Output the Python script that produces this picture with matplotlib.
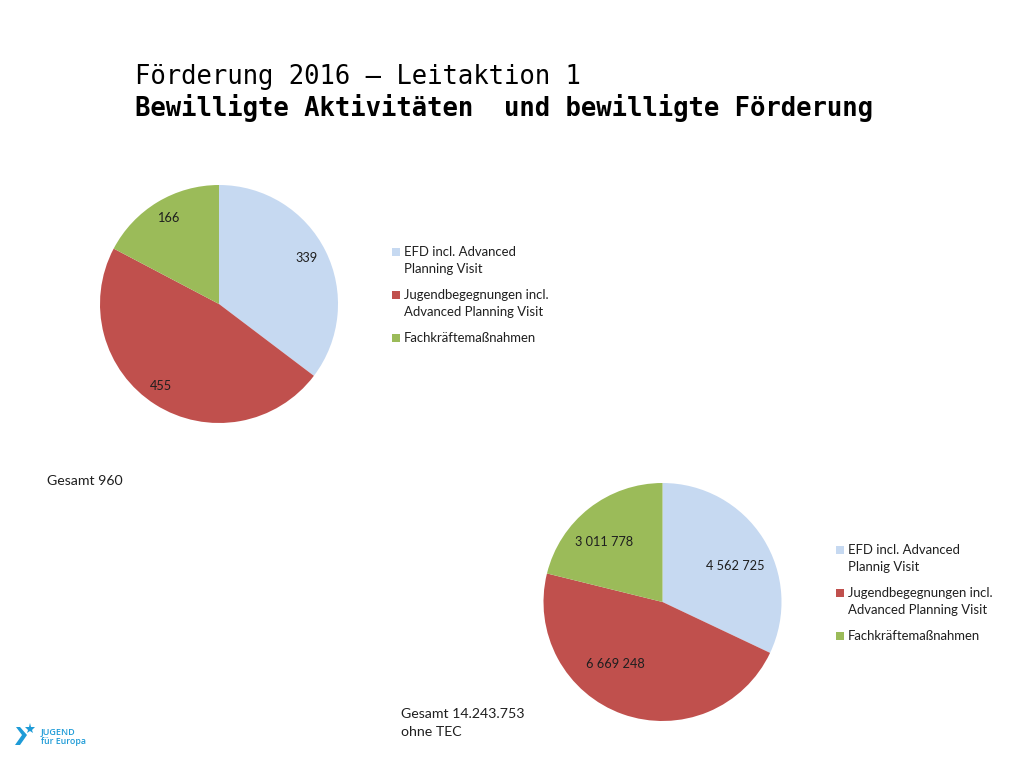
import matplotlib
matplotlib.use('Agg')
import matplotlib.pyplot as plt
from matplotlib.patches import Polygon, Rectangle

W, H = 1024, 768

title_top = "Förderung 2016 – Leitaktion 1"
title_bold = "Bewilligte Aktivitäten  und bewilligte Förderung"

colors = ['#C6D9F1', '#C0504D', '#9BBB59']

activities = [339, 455, 166]
activity_labels = ['339', '455', '166']
activity_legend = ['EFD incl. Advanced\nPlanning Visit',
                   'Jugendbegegnungen incl.\nAdvanced Planning Visit',
                   'Fachkräftemaßnahmen']

funding = [4562725, 6669248, 3011778]
funding_labels = ['4 562 725', '6 669 248', '3 011 778']
funding_legend = ['EFD incl. Advanced\nPlannig Visit',
                  'Jugendbegegnungen incl.\nAdvanced Planning Visit',
                  'Fachkräftemaßnahmen']

BODY_FONT = 'Lato'
BODY_SIZE = 9.2
LEGEND_SIZE = 9.45
TEXT_COLOR = '#1f1f1f'

fig = plt.figure(figsize=(W / 100, H / 100), dpi=100, facecolor='white')

# overlay in pixel coordinates for the slide texts, legends and logo
page = fig.add_axes([0, 0, 1, 1])
page.set_xlim(0, W)
page.set_ylim(H, 0)
page.axis('off')


def draw_pie(values, labels, cx, cy, r, dist, nudges):
    ax = fig.add_axes([(cx - r) / W, 1 - (cy + r) / H, 2 * r / W, 2 * r / H])
    wedges, texts = ax.pie(values, labels=labels, colors=colors, startangle=90,
                           counterclock=False, radius=1, labeldistance=dist,
                           textprops={'family': BODY_FONT, 'fontsize': BODY_SIZE,
                                      'color': TEXT_COLOR})
    # labels sit a few pixels off the wedge middle in the original
    for t, (dx, dy) in zip(texts, nudges):
        x, y = t.get_position()
        t.set_position((x + dx / r, y - dy / r))
        t.set_ha('center')
        t.set_va('center')
    ax.set_xlim(-1, 1)
    ax.set_ylim(-1, 1)


def draw_legend(names, x, ys):
    for name, color, y in zip(names, colors, ys):
        page.add_patch(Rectangle((x, y - 4), 8, 8, facecolor=color, edgecolor='none'))
        page.text(x + 12, y - 6, name, family=BODY_FONT, fontsize=LEGEND_SIZE,
                  color=TEXT_COLOR, va='top', ha='left', linespacing=1.5)


draw_pie(activities, activity_labels, 219, 304, 119, 0.84,
         [(-2, -1), (-4, -2), (1, 0)])
draw_pie(funding, funding_labels, 662.5, 602, 119, 0.72,
         [(0, 10), (-18, -19), (-6, 7)])

draw_legend(activity_legend, 392, [252, 295, 338])
draw_legend(funding_legend, 836, [550, 593, 636])

page.text(135, 77.5, title_top, family='DejaVu Sans Mono', fontsize=18.45,
          color='black', va='center', ha='left')
page.text(135, 108, title_bold, family='DejaVu Sans Mono', fontsize=18.45,
          fontweight='bold', color='black', va='center', ha='left')

page.text(47, 481, 'Gesamt 960', family=BODY_FONT, fontsize=10.2,
          color=TEXT_COLOR, va='center')
page.text(401, 723, 'Gesamt 14.243.753\nohne TEC', family=BODY_FONT,
          fontsize=10.2, color=TEXT_COLOR, va='center', linespacing=1.6)

# logo
logo_blue = '#1E9BD7'
page.add_patch(Polygon([(16, 727), (20, 727), (27, 735), (20, 745), (15, 745), (22, 735)],
                       closed=True, facecolor=logo_blue, edgecolor='none'))
page.plot([30], [729], marker='*', markersize=8, color=logo_blue, markeredgewidth=0)
page.text(41, 732, 'JUGEND', family='Open Sans', fontsize=6.5, fontweight='semibold',
          color=logo_blue, va='center')
page.text(41, 742, 'für Europa', family='Open Sans', fontsize=6.3, fontweight='semibold',
          color=logo_blue, va='center')

fig.savefig('out.png', dpi=100)
